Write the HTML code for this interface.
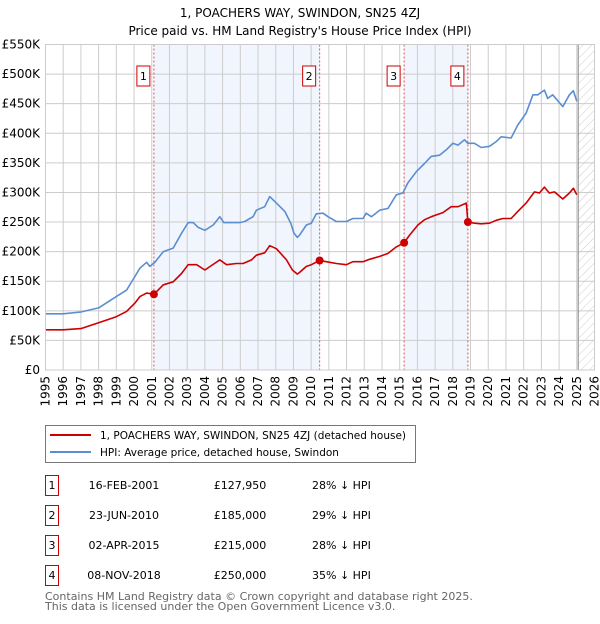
<!DOCTYPE html>
<html><head><meta charset="utf-8"><style>
body{margin:0;background:#fff;width:600px;height:620px;overflow:hidden;font-family:"DejaVu Sans","Liberation Sans",sans-serif;}
svg text{font-family:"DejaVu Sans","Liberation Sans",sans-serif;}
</style></head><body>
<svg id="chart" width="600" height="620" viewBox="0 0 600 620">
<defs><pattern id="hatch" width="6" height="6" patternUnits="userSpaceOnUse" patternTransform="rotate(45)"><line x1="0" y1="0" x2="0" y2="6" stroke="#ccc" stroke-width="1"/></pattern></defs>
<text x="300" y="17" text-anchor="middle" font-size="12">1, POACHERS WAY, SWINDON, SN25 4ZJ</text>
<text x="300" y="35" text-anchor="middle" font-size="12">Price paid vs. HM Land Registry's House Price Index (HPI)</text>
<g id="plot"></g>
<g>
<rect x="45.5" y="425.5" width="370" height="37" fill="#fff" stroke="#777"/>
<line x1="50" y1="435" x2="91" y2="435" stroke="#cc0000" stroke-width="2"/>
<text x="100" y="439" font-size="10.5">1, POACHERS WAY, SWINDON, SN25 4ZJ (detached house)</text>
<line x1="50" y1="452" x2="91" y2="452" stroke="#5b8ed1" stroke-width="2"/>
<text x="100" y="456" font-size="10.5">HPI: Average price, detached house, Swindon</text>
</g>
<g id="table" font-size="11"></g>
<text x="45" y="600" font-size="11" fill="#666">Contains HM Land Registry data © Crown copyright and database right 2025.</text>
<text x="45" y="610" font-size="11" fill="#666">This data is licensed under the Open Government Licence v3.0.</text>
</svg>
<script>
const hpiYears=[1995,1996,1997,1998,1999,1999.58,2000.05,2000.33,2000.71,2000.89,2001.18,2001.65,2002.21,2002.68,2003.06,2003.34,2003.62,2004.0,2004.47,2004.84,2005.07,2005.59,2005.97,2006.25,2006.72,2006.91,2007.38,2007.66,2008.04,2008.51,2008.85,2009.03,2009.22,2009.35,2009.73,2010.01,2010.29,2010.67,2010.95,2011.42,2011.99,2012.36,2012.93,2013.11,2013.4,2013.87,2014.34,2014.81,2015.18,2015.46,2015.94,2016.4,2016.78,2017.25,2017.63,2018.0,2018.29,2018.66,2018.85,2019.22,2019.6,2020.07,2020.45,2020.73,2021.29,2021.67,2022.14,2022.52,2022.8,2023.17,2023.36,2023.64,2024.21,2024.58,2024.81,2025.0];
const hpiValues=[95,95,98,105,124,135,158,172,182,175,182,200,206,231,249,249,241,236,245,259,249,249,249,251,259,270,276,293,282,268,248,231,224,228,245,248,264,265,259,251,251,256,256,265,259,270,273,296,299,316,335,349,361,363,372,383,380,389,383,383,376,378,386,394,392,414,434,465,465,473,459,465,445,465,472,454];
const propYears=[1995,1996,1997,1998,1999,1999.58,2000.05,2000.33,2000.71,2001.12,2001.65,2002.21,2002.68,2003.06,2003.53,2004.0,2004.84,2005.22,2005.78,2006.16,2006.63,2006.91,2007.38,2007.66,2008.04,2008.61,2008.94,2009.22,2009.35,2009.73,2010.01,2010.48,2010.86,2011.42,2011.99,2012.36,2012.93,2013.3,2013.87,2014.34,2014.81,2015.25,2015.56,2016.03,2016.4,2016.87,2017.44,2017.91,2018.29,2018.76,2018.85,2019.22,2019.6,2020.07,2020.45,2020.82,2021.29,2021.67,2022.14,2022.61,2022.89,2023.17,2023.45,2023.74,2024.21,2024.58,2024.81,2025.0];
const propValues=[68,68,70,80,90,99,113,124,130,127.95,144,149,163,178,178,169,186,178,180,180,186,194,198,210,205,186,169,162,165,175,178,185,183,180,178,183,183,187,192,197,208,215,228,245,254,260,266,276,276,282,250,248,247,248,253,256,256,268,282,301,299,309,299,301,289,299,307,296];
const saleLabels=["1","2","3","4"];
const saleYears=[2001.12,2010.48,2015.25,2018.85];
const saleValues=[127.95,185,215,250];
const saleDates=["16-FEB-2001","23-JUN-2010","02-APR-2015","08-NOV-2018"];
const salePrices=["£127,950","£185,000","£215,000","£250,000"];
const saleDiffs=["28% ↓ HPI","29% ↓ HPI","28% ↓ HPI","35% ↓ HPI"];
const yTicks=[0,50,100,150,200,250,300,350,400,450,500,550];
const yTickLabels=["£0","£50K","£100K","£150K","£200K","£250K","£300K","£350K","£400K","£450K","£500K","£550K"];
const xStart=1995,xEnd=2026,dataEnd=2025.08;

const L=45.5,R=594.5,T=44.5,B=370;
const X=y=>L+(y-xStart)/(xEnd-xStart)*(R-L);
const Y=v=>B-v/550*(B-T);
const NS="http://www.w3.org/2000/svg";
const plot=document.getElementById('plot');
function mk(tag,attrs,parent){const e=document.createElementNS(NS,tag);for(const k in attrs)e.setAttribute(k,attrs[k]);(parent||plot).appendChild(e);return e;}
for(const [a,b] of [[0,1],[2,3]]){
 const r=mk('rect',{x:X(saleYears[a]),y:T,width:X(saleYears[b])-X(saleYears[a]),height:B-T,fill:'#eef3fc',opacity:0.8});
 
 
}
const hr=mk('rect',{x:X(dataEnd),y:T,width:R-X(dataEnd),height:B-T,fill:'url(#hatch)'});


for(let yr=xStart;yr<=xEnd;yr++){
 const g=mk('line',{x1:X(yr),x2:X(yr),y1:T,y2:B,stroke:'#ccc','stroke-width':1});
 
 
 const t=mk('text',{x:0,y:0,'font-size':12,'text-anchor':'end',transform:`translate(${X(yr)+4},${B+6}) rotate(-90)`});
 t.textContent=yr;
 
 
}
yTicks.forEach((v,i)=>{
 const g=mk('line',{x1:L,x2:R,y1:Y(v),y2:Y(v),stroke:'#ccc','stroke-width':1});
 
 
 const t=mk('text',{x:40,y:Y(v)+4,'font-size':12,'text-anchor':'end'});
 t.textContent=yTickLabels[i];
 
 
});
const el=mk('line',{x1:X(dataEnd),x2:X(dataEnd),y1:T,y2:B,stroke:'#888','stroke-width':1});


saleYears.forEach((s,i)=>{
 const l=mk('line',{x1:X(s),x2:X(s),y1:T,y2:B,stroke:'#e05050','stroke-width':1,'stroke-dasharray':'2,2'});
 
 
});
function path(xs,vs,color,name){
 const d=xs.map((x,i)=>(i?'L':'M')+X(x).toFixed(1)+','+Y(vs[i]).toFixed(1)).join('');
 const p=mk('path',{d:d,fill:'none',stroke:color,'stroke-width':1.6,'stroke-linejoin':'round'});
 
 
}
path(hpiYears,hpiValues,'#5b8ed1','hpi-line');
path(propYears,propValues,'#cc0000','property-line');
saleYears.forEach((s,i)=>{
 const c=mk('circle',{cx:X(s),cy:Y(saleValues[i]),r:4,fill:'#cc0000'});
 
 
 const b=mk('rect',{x:X(s)-17,y:66,width:13,height:20,fill:'#fff',stroke:'#cc0000'});
 
 
 const t=mk('text',{x:X(s)-10.5,y:80,'font-size':11,'text-anchor':'middle'});
 t.textContent=saleLabels[i];
 
 
});
const fr=mk('rect',{x:L,y:T,width:R-L,height:B-T,fill:'none',stroke:'#ccc'});


const tb=document.getElementById('table');
saleLabels.forEach((s,i)=>{
 const y0=475+i*30;
 const b=mk('rect',{x:45.5,y:y0+0.5,width:13,height:20,fill:'#fff',stroke:'#cc0000'},tb);
 
 
 const cells=[[52,s,'middle','table-row-number'],[124,saleDates[i],'middle','table-date'],[240,salePrices[i],'middle','table-price'],[312,saleDiffs[i],'start','table-hpi-diff']];
 cells.forEach(c=>{
  const t=mk('text',{x:c[0],y:y0+14,'text-anchor':c[2],'font-size':11},tb);
  t.textContent=c[1];
  
  
 });
});
</script>
</body></html>
